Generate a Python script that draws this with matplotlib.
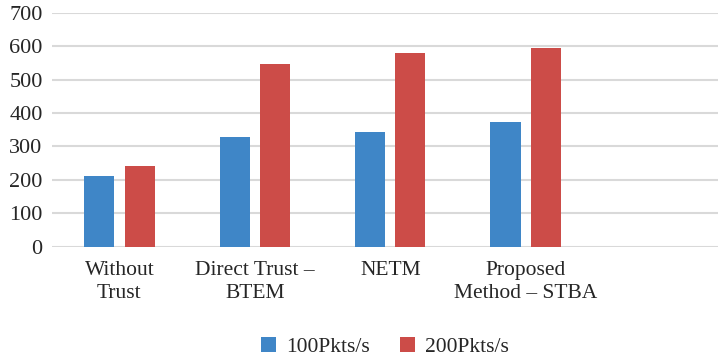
import matplotlib
matplotlib.use("Agg")
import matplotlib.pyplot as plt
import numpy as np

plt.rcParams['font.family'] = ['Liberation Serif', 'DejaVu Serif']

categories = ["Without\nTrust", "Direct Trust –\nBTEM", "NETM", "Proposed\nMethod – STBA"]
series_names = ["100Pkts/s", "200Pkts/s"]
pkts_100 = [212, 327, 344, 374]
pkts_200 = [242, 547, 578, 595]

blue = "#3f86c7"
red = "#cc4c48"

fig = plt.figure(figsize=(7.18, 3.58), dpi=100)
ax = fig.add_axes([0.072, 0.311, 0.928, 0.6536])

x = np.arange(len(categories))
w = 0.222
off = 0.149
ax.bar(x - off, pkts_100, w, color=blue, label=series_names[0], zorder=3)
ax.bar(x + off, pkts_200, w, color=red, label=series_names[1], zorder=3)

ax.set_ylim(0, 700)
ax.set_yticks(range(0, 701, 100))
ax.set_xlim(-0.5, 4.42)
ax.set_xticks(x)
ax.set_xticklabels(categories, fontsize=15.5, color="#262626", linespacing=1.3)
ax.tick_params(axis='y', labelsize=16, labelcolor="#262626", length=0, pad=6.5)
ax.tick_params(axis='x', length=0, pad=10.5)
ax.grid(axis='y', color="#d9d9d9", linewidth=1.5, zorder=0)
for s in ax.spines.values():
    s.set_visible(False)

fig.legend(loc='center', bbox_to_anchor=(0.536, 0.031), ncol=2, frameon=False,
           fontsize=15.5, handlelength=0.7, handleheight=0.7, handletextpad=0.46,
           columnspacing=1.4, labelcolor="#262626", borderpad=0)

fig.savefig("out.png", dpi=100)
